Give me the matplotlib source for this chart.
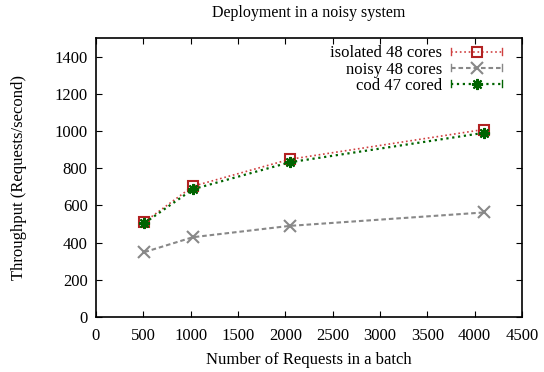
import matplotlib.pyplot as plt
from matplotlib.legend_handler import HandlerLine2D
from matplotlib.lines import Line2D

plt.rcParams['font.family'] = ['Liberation Serif', 'DejaVu Serif']

batch = [512, 1024, 2048, 4096]
isolated = [511, 703, 848, 1008]
noisy = [349, 429, 490, 562]
cod = [505, 687, 832, 990]


class EndTickHandler(HandlerLine2D):
    # gnuplot-style key sample: short bars at both ends
    def create_artists(self, legend, orig_handle, xdescent, ydescent,
                       width, height, fontsize, trans):
        arts = super().create_artists(legend, orig_handle, xdescent, ydescent,
                                      width, height, fontsize, trans)
        y = height / 2 - ydescent
        for x in (-xdescent, width - xdescent):
            t = Line2D([x, x], [y - 2.5, y + 2.5], color=orig_handle.get_color(),
                       linewidth=1.0, transform=trans)
            arts.append(t)
        return arts


fig = plt.figure(figsize=(5.44, 3.72), dpi=100)
ax = fig.add_axes([96 / 544, 1 - 317 / 372, 426 / 544, 279 / 372])

ax.plot(batch, isolated, color='#d04040', linestyle=':', linewidth=1.2,
        marker='s', markersize=7, markerfacecolor='none', markeredgecolor='#b22222',
        markeredgewidth=1.5, label='isolated 48 cores')
ax.plot(batch, noisy, color='#888888', linestyle=(0, (2.2, 1.4)), linewidth=1.5,
        marker='x', markersize=8, markeredgewidth=1.5, label='noisy 48 cores')
ax.plot(batch, cod, color='#006400', linestyle=':', linewidth=1.6,
        marker=(8, 2, 0), markersize=8, markeredgewidth=1.5, label='cod 47 cored')

ax.set_xlim(0, 4500)
ax.set_ylim(0, 1500)
ax.set_xticks(range(0, 4501, 500))
ax.set_yticks(range(0, 1401, 200))
ax.tick_params(direction='in', top=True, right=True, labelsize=12, length=4)
ax.tick_params(axis='x', pad=8)
ax.tick_params(axis='y', pad=6)
for s in ax.spines.values():
    s.set_linewidth(1.2)

fig.text(0.5 * (96 + 522) / 544, 1 - 13 / 372, 'Deployment in a noisy system',
         fontsize=11.5, ha='center', va='center')
ax.set_xlabel('Number of Requests in a batch', fontsize=12, labelpad=6)
ax.set_ylabel('Throughput (Requests/second)', fontsize=12, labelpad=20)

ax.legend(loc='upper right', frameon=False, markerfirst=False, fontsize=12,
          handlelength=3.05, handletextpad=0.55, labelspacing=0.01,
          borderaxespad=0.8, bbox_to_anchor=(1, 1.045),
          handler_map={Line2D: EndTickHandler()})

fig.savefig('out.png', dpi=100)
